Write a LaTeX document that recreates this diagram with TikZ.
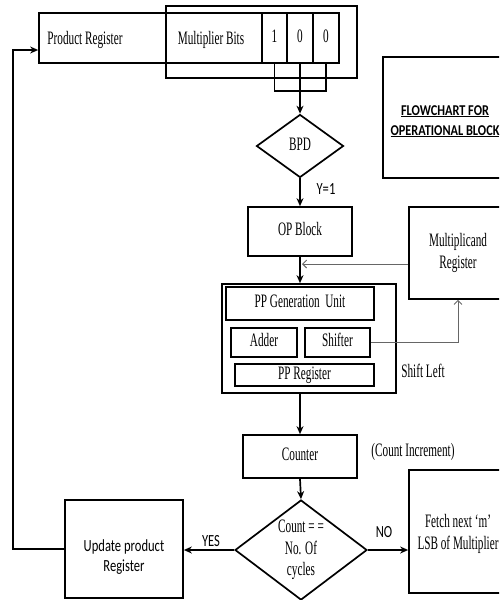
\documentclass[tikz,border=0pt]{standalone}
\usepackage{graphicx}
\usepackage{fontspec}
\setmainfont{Liberation Serif}
\newfontfamily\calfont{Carlito}
\usetikzlibrary{arrows.meta,shapes.geometric}
\newcommand\tx[1]{\scalebox{0.59}[1]{\fontsize{19}{21.5}\selectfont\begin{tabular}{@{}c@{}}#1\end{tabular}}}
\newcommand\tc[1]{\scalebox{0.74}[1]{\calfont\fontsize{17}{20}\selectfont\begin{tabular}{@{}c@{}}#1\end{tabular}}}
\newcommand\tb[1]{\scalebox{0.82}[1]{\calfont\bfseries\fontsize{15}{20}\selectfont\begin{tabular}{@{}c@{}}#1\end{tabular}}}
\begin{document}
\begin{tikzpicture}[x=1pt,y=-1pt,
  box/.style={draw,line width=1.7pt,inner sep=0pt,rectangle},
  dia/.style={draw,line width=1.7pt,inner sep=0pt,diamond},
  arr/.style={line width=1.7pt,-{Stealth[length=8pt,width=7pt]}},
  plain/.style={line width=1.7pt},
  thinarr/.style={line width=0.9pt,draw=black!60,-{Straight Barb[length=4pt,width=8pt]}},
  lbl/.style={inner sep=0pt}]
\useasboundingbox (0,0) rectangle (499,600);
\clip (0,0) rectangle (499,600);

% top register
\node[box,minimum width=191pt,minimum height=72pt] (mbox) at (261.5,42) {};
\node[box,minimum width=300pt,minimum height=50pt] (prod) at (189,38) {};
\node[lbl] (tprod) at (85,40) {\tx{Product Register}};
\node[lbl] (tmb) at (211,40) {\tx{Multiplier Bits}};
\node[box,minimum width=25.5pt,minimum height=50pt] (b1) at (274.5,38) {\tx{1}};
\node[box,minimum width=25.5pt,minimum height=50pt] (b2) at (300,38) {\tx{0}};
\node[box,minimum width=25.5pt,minimum height=50pt] (b3) at (326,38) {\tx{0}};
\coordinate (brk) at (300,91);
\draw[plain] (b1.south) |- (brk) -| (b3.south);

% title box
\node[box,minimum width=124pt,minimum height=121pt] (title) at (445,117.5) {};
\node[lbl] (ttitle) at (445,121) {\tb{\underline{FLOWCHART FOR}\\\underline{OPERATIONAL BLOCK}}};

% BPD
\node[dia,aspect=1.38,minimum width=87pt,minimum height=63pt] (bpd) at (300,146) {\tx{BPD}};
\draw[arr] (b2.south) -- (bpd.north);
\node[lbl] (y1) at (326,190) {\tc{Y=1}};

% OP block
\node[box,minimum width=104pt,minimum height=49pt] (op) at (300,231.5) {\tx{OP Block}};
\draw[arr] (bpd.south) -- (op.north);

% multiplicand
\node[box,minimum width=98pt,minimum height=92pt] (mult) at (458,253) {\tx{Multiplicand\\Register}};

% PP unit
\node[box,minimum width=174pt,minimum height=109pt] (pp) at (309,338.5) {};
\node[box,minimum width=148pt,minimum height=33pt] (ppgen) at (300,303.5) {\tx{PP Generation\ \ Unit}};
\node[box,minimum width=66pt,minimum height=29pt] (adder) at (264,342.5) {\tx{Adder}};
\node[box,minimum width=65pt,minimum height=29pt] (shifter) at (337.5,342.5) {\tx{Shifter}};
\node[box,minimum width=139pt,minimum height=22pt] (ppreg) at (304.5,375) {\tx{PP Register}};
\node[lbl] (shl) at (423,373) {\tx{Shift Left}};
\draw[arr] (op.south) -- (op.south |- pp.north);
\coordinate (mj) at (302,264);
\draw[thinarr] (mult.west |- mj) -- (mj);
\draw[thinarr] (shifter.east) -| (mult.south);

% counter
\node[box,minimum width=114pt,minimum height=43pt] (cnt) at (300,456.5) {\tx{Counter}};
\draw[arr] (pp.south -| op.south) -- (cnt.north);
\node[lbl] (cinc) at (413,452) {\tx{(Count Increment)}};

% decision
\node[dia,aspect=1.32,minimum width=132pt,minimum height=100pt] (cd) at (301,550) {\tx{Count = =\\No. Of\\cycles}};
\draw[arr] (cnt.south) -- (cd.north);

% fetch
\node[box,minimum width=98pt,minimum height=123pt] (fetch) at (458,531.5) {};
\node[lbl] (tfetch) at (458,534) {\tx{Fetch next ‘m’\\LSB of Multiplier}};
\draw[arr] (cd.east) -- (fetch.west |- cd.east);
\node[lbl] (no) at (384,533) {\tc{NO}};

% update
\node[box,minimum width=118pt,minimum height=98pt] (upd) at (124,549) {};
\node[lbl] (tupd) at (124,557) {\tc{Update product\\Register}};
\draw[arr] (cd.west) -- (upd.east |- cd.west);
\node[lbl] (yes) at (211,542) {\tc{YES}};

% loop back
\coordinate (lc) at (13,50);
\draw[arr] (upd.west) -| (lc) -- (prod.west |- lc);
\end{tikzpicture}
\end{document}
